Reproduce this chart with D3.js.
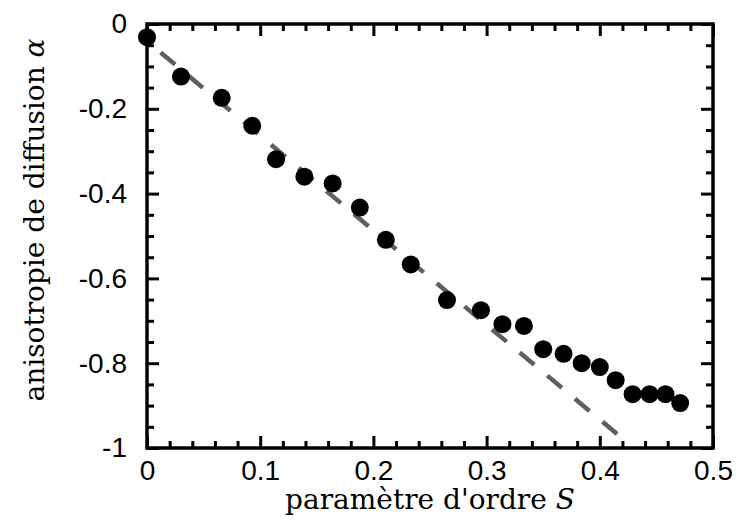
<!DOCTYPE html>
<html>
<head>
<meta charset="utf-8">
<script src="https://cdn.jsdelivr.net/npm/d3@7"></script>
<style>
  body { margin: 0; background: #fff; }
</style>
</head>
<body>
<div id="chart"></div>
<script>
// measured points: order parameter S vs diffusion anisotropy alpha
const orderS = [0.000, 0.030, 0.066, 0.093, 0.114, 0.139, 0.164, 0.188, 0.211, 0.233,
                0.265, 0.295, 0.314, 0.333, 0.350, 0.368, 0.384, 0.400, 0.414, 0.429,
                0.444, 0.458, 0.471];
const alpha = [-0.031, -0.124, -0.174, -0.240, -0.319, -0.360, -0.376, -0.433, -0.509, -0.567,
               -0.651, -0.675, -0.708, -0.712, -0.767, -0.778, -0.800, -0.809, -0.840, -0.873,
               -0.873, -0.873, -0.894];

// dashed linear fit, end points
const fitS = [0.012, 0.418];
const fitAlpha = [-0.067, -0.973];

const xTicks = [0, 0.1, 0.2, 0.3, 0.4, 0.5];
const yTicks = [0, -0.2, -0.4, -0.6, -0.8, -1];

const width = 736, height = 521;
const margin = {left: 147, right: 23, top: 24, bottom: 73};

const svg = d3.select("#chart").append("svg")
    .attr("width", width)
    .attr("height", height);

const x = d3.scaleLinear().domain([0, 0.5]).range([margin.left, width - margin.right]);
const y = d3.scaleLinear().domain([-1, 0]).range([height - margin.bottom, margin.top]);

const xMinor = d3.range(0, 0.5001, 0.02).filter(v => Math.abs(v * 10 - Math.round(v * 10)) > 1e-6);
const yMinor = d3.range(-1, 0.0001, 0.05).filter(v => Math.abs(v * 5 - Math.round(v * 5)) > 1e-6);

const fmt = d => d === 0 ? "0" : d === -1 ? "-1" : String(+d.toFixed(1));

// ticks on all four sides, pointing inward
const addAxis = (axisFn, scale, pos, major, minor, labels) => {
    const gMaj = svg.append("g")
        .attr("transform", pos)
        .call(axisFn(scale).tickValues(major).tickSize(-12).tickPadding(24)
            .tickFormat(labels ? fmt : ""));
    const gMin = svg.append("g")
        .attr("transform", pos)
        .call(axisFn(scale).tickValues(minor).tickSize(-7).tickFormat(""));
    [gMaj, gMin].forEach(g => {
        g.select(".domain").remove();
        g.selectAll(".tick line").attr("stroke", "#000").attr("stroke-width", 3);
    });
    return gMaj;
};

const bottomG = addAxis(d3.axisBottom, x, `translate(0,${y(-1)})`, xTicks, xMinor, true);
addAxis(d3.axisTop, x, `translate(0,${y(0)})`, xTicks, xMinor, false);
const leftG = addAxis(d3.axisLeft, y, `translate(${x(0)},0)`, yTicks, yMinor, true);
addAxis(d3.axisRight, y, `translate(${x(0.5)},0)`, yTicks, yMinor, false);

bottomG.selectAll("text")
    .style("font-family", "'Liberation Sans', Arial, sans-serif")
    .style("font-size", "28px")
    .attr("fill", "#000")
    .attr("y", 12)
    .attr("dy", "0.71em");
leftG.selectAll("text")
    .style("font-family", "'Liberation Sans', Arial, sans-serif")
    .style("font-size", "28px")
    .attr("fill", "#000")
    .attr("x", -20);

// frame
svg.append("rect")
    .attr("x", x(0))
    .attr("y", y(0))
    .attr("width", x(0.5) - x(0))
    .attr("height", y(-1) - y(0))
    .attr("fill", "none")
    .attr("stroke", "#000")
    .attr("stroke-width", 3.5);

// dashed fit line
const fitData = fitS.map((s, i) => [s, fitAlpha[i]]);
svg.append("path")
    .datum(fitData)
    .attr("d", d3.line().x(d => x(d[0])).y(d => y(d[1])))
    .attr("fill", "none")
    .attr("stroke", "#5f5f5f")
    .attr("stroke-width", 4.5)
    .attr("stroke-dasharray", "19,17");

// points
svg.append("g")
    .selectAll("circle")
    .data(orderS.map((s, i) => [s, alpha[i]]))
    .join("circle")
    .attr("cx", d => x(d[0]))
    .attr("cy", d => y(d[1]))
    .attr("r", 9)
    .attr("fill", "#000");

// axis titles
const xTitle = svg.append("text")
    .attr("x", (x(0) + x(0.5)) / 2)
    .attr("y", 509)
    .attr("text-anchor", "middle")
    .style("font-family", "'DejaVu Serif', serif")
    .style("font-size", "28px")
    .attr("fill", "#000");
xTitle.append("tspan").text("paramètre d'ordre ");
xTitle.append("tspan").style("font-style", "italic").text("S");

const yTitle = svg.append("text")
    .attr("transform", `translate(44,220) rotate(-90)`)
    .attr("text-anchor", "middle")
    .style("font-family", "'DejaVu Serif', serif")
    .style("font-size", "28px")
    .attr("fill", "#000");
yTitle.append("tspan").text("anisotropie de diffusion ");
yTitle.append("tspan").style("font-style", "italic").text("α");
</script>
</body>
</html>
